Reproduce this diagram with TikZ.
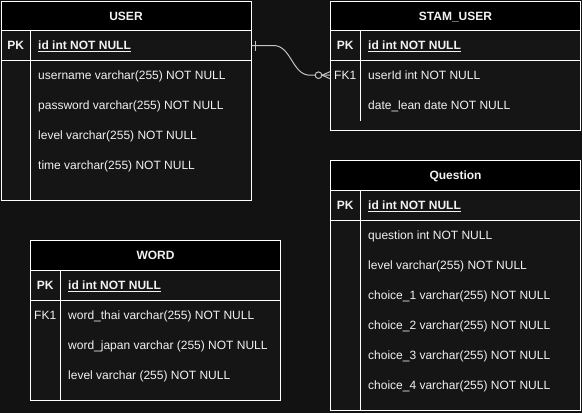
\documentclass[tikz,border=0pt]{standalone}
\usepackage{fontspec}
\setmainfont{Liberation Sans}
\usetikzlibrary{positioning}
\definecolor{canvasbg}{HTML}{121212}
\definecolor{tablebody}{HTML}{151515}
\definecolor{linkgray}{HTML}{C4C4C4}
\definecolor{fieldtext}{HTML}{F2F2F2}

\begin{document}
\begin{tikzpicture}[
    x=1pt, y=-1pt,
    every node/.style={text=fieldtext, inner sep=0pt, text height=8.6pt, text depth=0pt, font=\fontsize{12}{14}\selectfont},
    head/.style={draw=white, line width=1pt, fill=black, minimum width=250pt, minimum height=30pt, anchor=north west, font=\fontsize{12}{14}\selectfont\bfseries},
    pkrow/.style={draw=white, line width=1pt, fill=tablebody, minimum width=250pt, minimum height=30pt, anchor=north west},
    body/.style={draw=white, line width=1pt, fill=tablebody, minimum width=250pt, anchor=north west},
    keycell/.style={minimum width=30pt, minimum height=30pt, anchor=north west},
    field/.style={anchor=west},
    divider/.style={draw=white, line width=1pt},
    link/.style={draw=linkgray, line width=1pt},
]
\fill[canvasbg] (0,0) rectangle (582,413);

% USER
\node[head] (userhead) at (0.5,0.5) {USER};
\node[pkrow] (userpk) at (0.5,30) {};
\node[body, minimum height=140pt] (userbody) at (0.5,60) {};
\draw[divider] ([xshift=30pt]userpk.north west) -- ([xshift=30pt]userbody.south west);
\node[keycell, font=\fontsize{12}{14}\selectfont\bfseries] (userpkkey) at (0.5,30) {PK};
\node[field, font=\fontsize{12}{14}\selectfont\bfseries] (userid) at (38,45) {\underline{id int NOT NULL}};
\foreach \txt [count=\i] in {username varchar(255) NOT NULL, password varchar(255) NOT NULL,
    level varchar(255) NOT NULL, time varchar(255) NOT NULL}
  \node[field] (userf\i) at (38,{45+30*\i}) {\txt};

% STAM_USER
\node[head] (stamhead) at (330,0.5) {STAM\_USER};
\node[pkrow] (stampk) at (330,30) {};
\node[body, minimum height=70pt] (stambody) at (330,60) {};
\draw[divider] ([xshift=30pt]stampk.north west) -- ([xshift=30pt,yshift=10pt]stambody.south west);
\node[keycell, font=\fontsize{12}{14}\selectfont\bfseries] (stampkkey) at (330,30) {PK};
\node[keycell] (stamfk) at (330,60) {FK1};
\node[field, font=\fontsize{12}{14}\selectfont\bfseries] (stamid) at (368,45) {\underline{id int NOT NULL}};
\foreach \txt [count=\i] in {userId int NOT NULL, date\_lean date NOT NULL}
  \node[field] (stamf\i) at (368,{45+30*\i}) {\txt};

% Question
\node[head] (queshead) at (330,160) {Question};
\node[pkrow] (quespk) at (330,190) {};
\node[body, minimum height=190pt] (quesbody) at (330,220) {};
\draw[divider] ([xshift=30pt]quespk.north west) -- ([xshift=30pt]quesbody.south west);
\node[keycell, font=\fontsize{12}{14}\selectfont\bfseries] (quespkkey) at (330,190) {PK};
\node[field, font=\fontsize{12}{14}\selectfont\bfseries] (quesid) at (368,205) {\underline{id int NOT NULL}};
\foreach \txt [count=\i] in {question int NOT NULL, level varchar(255) NOT NULL,
    choice\_1 varchar(255) NOT NULL, choice\_2 varchar(255) NOT NULL,
    choice\_3 varchar(255) NOT NULL, choice\_4 varchar(255) NOT NULL}
  \node[field] (quesf\i) at (368,{205+30*\i}) {\txt};

% WORD
\node[head] (wordhead) at (30,240) {WORD};
\node[pkrow] (wordpk) at (30,270) {};
\node[body, minimum height=100pt] (wordbody) at (30,300) {};
\draw[divider] ([xshift=30pt]wordpk.north west) -- ([xshift=30pt]wordbody.south west);
\node[keycell, font=\fontsize{12}{14}\selectfont\bfseries] (wordpkkey) at (30,270) {PK};
\node[keycell] (wordfk) at (30,300) {FK1};
\node[field, font=\fontsize{12}{14}\selectfont\bfseries] (wordid) at (68,285) {\underline{id int NOT NULL}};
\foreach \txt [count=\i] in {word\_thai varchar(255) NOT NULL, word\_japan varchar (255) NOT NULL,
    level varchar (255) NOT NULL}
  \node[field] (wordf\i) at (68,{285+30*\i}) {\txt};

% USER 1 -- 0..n STAM_USER
\draw[link] (userpk.east) -- ++(22,0) .. controls +(18,0) and +(-18,0) .. ([xshift=-20pt]stamfk.west) -- (stamfk.west);
\draw[link] ([xshift=4pt,yshift=5pt]userpk.east) -- ([xshift=4pt,yshift=-5pt]userpk.east);
\draw[link, fill=canvasbg] ([xshift=-11.5pt]stamfk.west) circle (3.3pt);
\draw[link] ([yshift=3.5pt]stamfk.west) -- ([xshift=-8pt]stamfk.west) -- ([yshift=-3.5pt]stamfk.west);
\end{tikzpicture}
\end{document}
